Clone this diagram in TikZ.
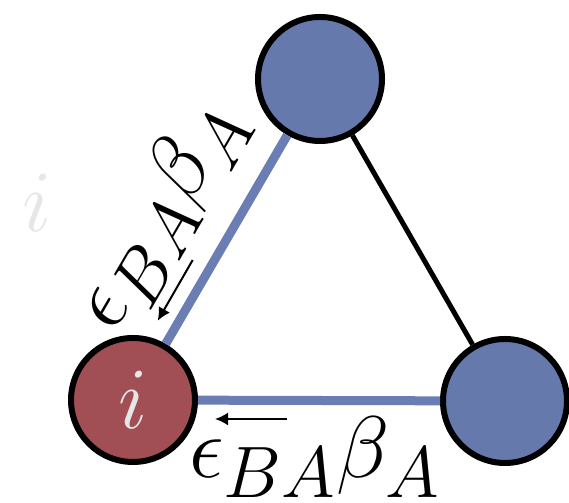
\documentclass[tikz,border=0pt]{standalone}
\usepackage{amsmath}
\usepackage{xcolor}
\usetikzlibrary{arrows.meta, positioning}
\definecolor{ND_RED}{HTML}{A14F55}
\definecolor{ND_BLUE}{HTML}{6679AD}
\definecolor{ED_BLUE}{HTML}{6A7EB4}
\definecolor{TXT_GREY}{HTML}{E6E6E6}
\tikzset{
  agent/.style={
    circle, minimum size=1.24cm, inner sep=0pt,
    line width=0.06cm, draw=black, fill=ND_BLUE},
  focal/.style={
    agent, fill=ND_RED, text=TXT_GREY,
    font=\fontsize{26}{31}\selectfont},
  link/.style={line width=0.05cm, color=black},
  flow/.style={line width=0.09cm, color=ED_BLUE},
  dir/.style={-{Latex[length=1.3mm,width=1.3mm]}, line width=0.02cm},
  lbl/.style={inner sep=0pt, text=black, font=\fontsize{28}{33}\selectfont},
}
\begin{document}
\begin{tikzpicture}

  \useasboundingbox (0,0) rectangle (5.69,5.03);

  \node[lbl, text=TXT_GREY, font=\fontsize{26}{31}\selectfont] (ghost) at (0.37,3.00) {$i$};

  \node[focal] (i)     at (1.33,1.03) {$i$};
  \node[agent] (top)   at (3.20,4.24) {};
  \node[agent] (right) at (5.05,1.02) {};

  \draw[flow] (i)   -- node[lbl, sloped, pos=0.45, above=0.25cm] (lbll) {$\epsilon_{BA}\beta_A$} (top);
  \draw[link] (top) -- (right);
  \draw[flow] (i)   -- node[lbl, pos=0.483, below=0.12cm] (lblb) {$\epsilon_{BA}\beta_A$} (right);

  % direction of the flows
  \coordinate (la1) at (1.927,2.43);
  \coordinate (la2) at (1.577,1.822);
  \coordinate (ba1) at (2.87,0.84);
  \coordinate (ba2) at (2.15,0.84);
  \draw[dir] (la1) -- (la2);
  \draw[dir] (ba1) -- (ba2);

\end{tikzpicture}
\end{document}
